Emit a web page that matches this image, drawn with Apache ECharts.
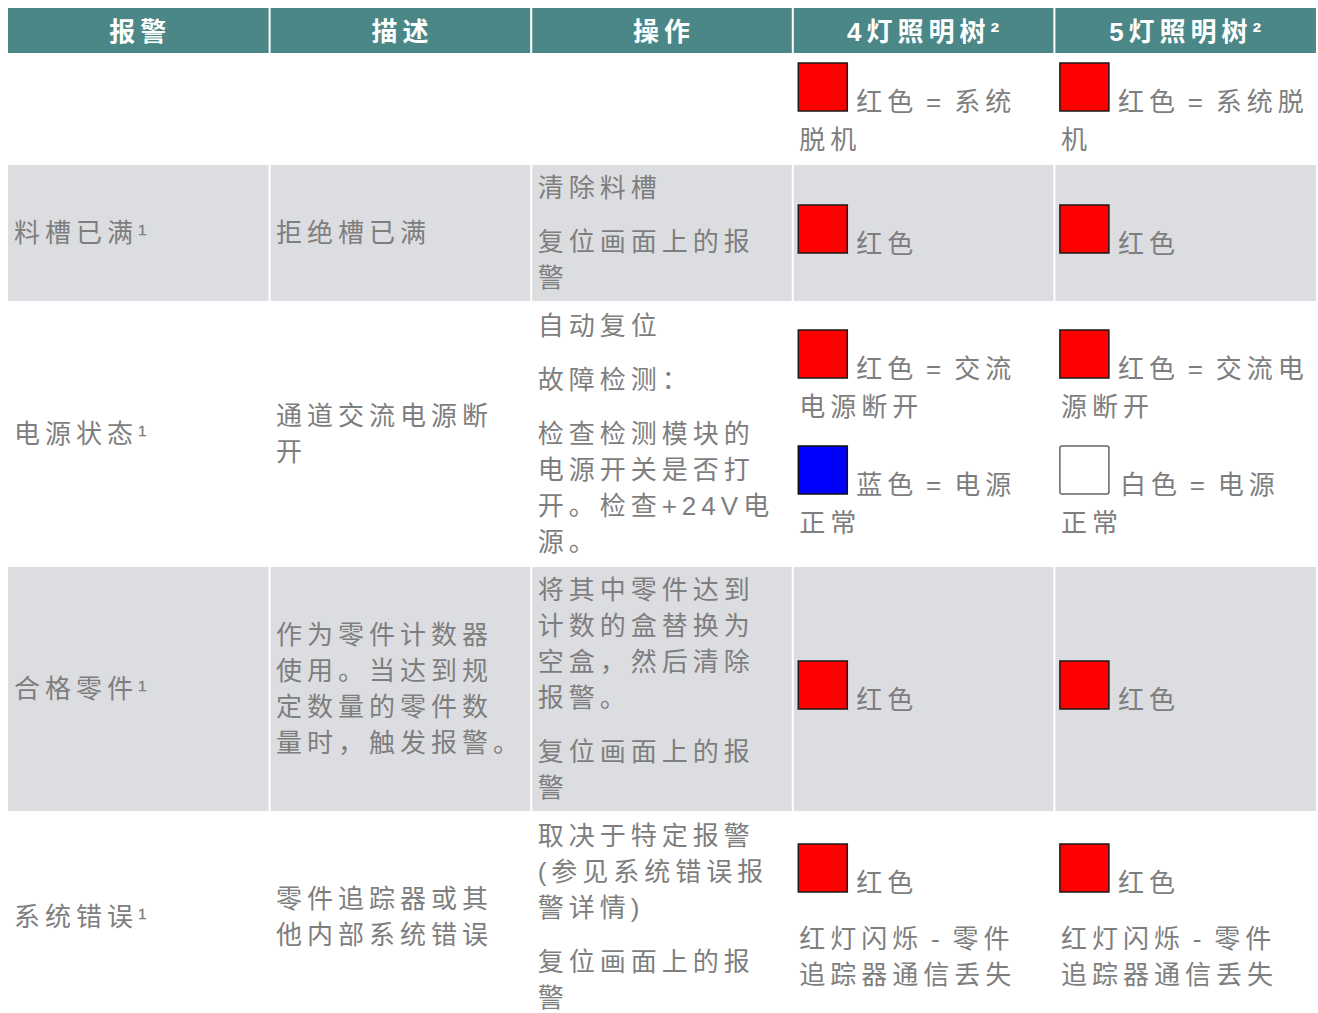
<!DOCTYPE html>
<html>
<head>
<meta charset="utf-8">
<script src="https://cdn.jsdelivr.net/npm/echarts@6/dist/echarts.min.js"></script>
<style>
  html, body { margin: 0; padding: 0; background: #ffffff; }
  #main { width: 1318px; height: 1013px; letter-spacing: 5px; word-spacing: -4.4px; }
</style>
</head>
<body>
<div id="main"></div>
<script>
// ---- table content ----
const headers = ['报警', '描述', '操作', '4灯照明树²', '5灯照明树²'];
const alarms = ['', '料槽已满¹', '电源状态¹', '合格零件¹', '系统错误¹'];
const descriptions = ['', '拒绝槽已满', '通道交流电源断\n开', '作为零件计数器\n使用。当达到规\n定数量的零件数\n量时，触发报警。', '零件追踪器或其\n他内部系统错误'];
const actions = [
  [],
  ['清除料槽', '复位画面上的报\n警'],
  ['自动复位', '故障检测：', '检查检测模块的\n电源开关是否打\n开。检查+24V电\n源。'],
  ['将其中零件达到\n计数的盒替换为\n空盒，然后清除\n报警。', '复位画面上的报\n警'],
  ['取决于特定报警\n(参见系统错误报\n警详情)', '复位画面上的报\n警']
];
const light4 = [
  [{ lamp: 'red', t: '红色 = 系统\n脱机' }],
  [{ lamp: 'red', t: '红色' }],
  [{ lamp: 'red', t: '红色 = 交流\n电源断开' }, { lamp: 'blue', t: '蓝色 = 电源\n正常' }],
  [{ lamp: 'red', t: '红色' }],
  [{ lamp: 'red', t: '红色' }, { t: '红灯闪烁 - 零件\n追踪器通信丢失' }]
];
const light5 = [
  [{ lamp: 'red', t: '红色 = 系统脱\n机' }],
  [{ lamp: 'red', t: '红色' }],
  [{ lamp: 'red', t: '红色 = 交流电\n源断开' }, { lamp: 'white', t: '白色 = 电源\n正常' }],
  [{ lamp: 'red', t: '红色' }],
  [{ lamp: 'red', t: '红色' }, { t: '红灯闪烁 - 零件\n追踪器通信丢失' }]
];

// ---- layout / style (not data) ----
const rowHeights = [45, 112, 136, 266, 244, 212];
const rowStart = [0];
rowHeights.forEach(h => rowStart.push(rowStart[rowStart.length - 1] + h));
const FAMILY = '"Liberation Sans", "Noto Sans CJK SC", sans-serif';
const HEADER_BG = '#4b8787';
const GREY_BG = '#dcdde0';
const TEXT = '#7e7e7e';
const LAMP = {
  red: { fill: '#ff0000', stroke: '#1a1a1a', lineWidth: 1.5 },
  blue: { fill: '#0000ff', stroke: '#111111', lineWidth: 1.5 },
  white: { fill: '#ffffff', stroke: '#666666', lineWidth: 1.5 }
};
const LINE_H = 36, PARA_GAP = 18, LAMP_LINE_H = 62;

function cellBlocks(row, col) {
  const i = row - 1;
  if (col === 0) return alarms[i] ? [{ t: alarms[i] }] : [];
  if (col === 1) return descriptions[i] ? [{ t: descriptions[i] }] : [];
  if (col === 2) return actions[i].map(t => ({ t }));
  if (col === 3) return light4[i];
  return light5[i];
}

const cells = [];
for (let r = 0; r < rowHeights.length; r++) {
  for (let c = 0; c < headers.length; c++) cells.push([c, r]);
}

function textEl(x, y, text, va, opts) {
  return {
    type: 'text',
    silent: true,
    style: Object.assign({
      x: x, y: y, text: text,
      fill: TEXT,
      fontFamily: FAMILY,
      fontSize: 26,
      fontWeight: 'normal',
      align: 'left',
      verticalAlign: va,
      lineHeight: LINE_H
    }, opts || {})
  };
}

function renderItem(params, api) {
  const col = api.value(0), row = api.value(1);
  const p0 = api.coord([col, rowStart[row]]);
  const p1 = api.coord([col + 1, rowStart[row + 1]]);
  const left = p0[0] + (col > 0 ? 1 : 0);
  const right = p1[0] - (col < headers.length - 1 ? 1 : 0);
  const top = p0[1], bottom = p1[1];
  const children = [];
  const bg = row === 0 ? HEADER_BG : (row % 2 === 0 ? GREY_BG : null);
  if (bg) {
    children.push({ type: 'rect', silent: true, shape: { x: left, y: top, width: right - left, height: bottom - top }, style: { fill: bg } });
  }
  if (row === 0) {
    children.push(textEl((left + right) / 2 + 2, (top + bottom) / 2 + 1, headers[col], 'middle', { fill: '#ffffff', fontWeight: 'bold', align: 'center' }));
    return { type: 'group', children };
  }
  const blocks = cellBlocks(row, col);
  if (!blocks.length) return { type: 'group', children };
  const heights = blocks.map(b => {
    const n = b.t.split('\n').length;
    return b.lamp ? LAMP_LINE_H + LINE_H * (n - 1) : LINE_H * n;
  });
  const total = heights.reduce((a, b) => a + b, 0) + PARA_GAP * (blocks.length - 1);
  let y = (top + bottom) / 2 - total / 2;
  const padX = col === 0 ? 6 : 5.5;
  blocks.forEach((b, k) => {
    const lines = b.t.split('\n');
    if (b.lamp) {
      const sx = p0[0] + 5.5;
      children.push({ type: 'rect', silent: true, shape: { x: sx, y: y + 3, width: 49, height: 48, r: b.lamp === 'white' ? 2 : 0 }, style: LAMP[b.lamp] });
      children.push(textEl(sx + 49 + (b.lamp === 'white' ? 11 : 9), y + 41.5, lines[0], 'middle'));
      if (lines.length > 1) {
        children.push(textEl(left + padX, y + LAMP_LINE_H, lines.slice(1).join('\n'), 'top'));
      }
    } else {
      children.push(textEl(left + padX, y, lines.join('\n'), 'top'));
    }
    y += heights[k] + PARA_GAP;
  });
  return { type: 'group', children };
}

const chart = echarts.init(document.getElementById('main'), null, { renderer: 'svg' });
chart.setOption({
  animation: false,
  backgroundColor: '#ffffff',
  grid: { left: 8, right: 2, top: 8, bottom: 0 },
  xAxis: { type: 'value', min: 0, max: headers.length, show: false },
  yAxis: { type: 'value', min: 0, max: 1005, inverse: true, show: false },
  series: [{
    type: 'custom',
    clip: false,
    renderItem: renderItem,
    data: cells
  }]
});
</script>
</body>
</html>
